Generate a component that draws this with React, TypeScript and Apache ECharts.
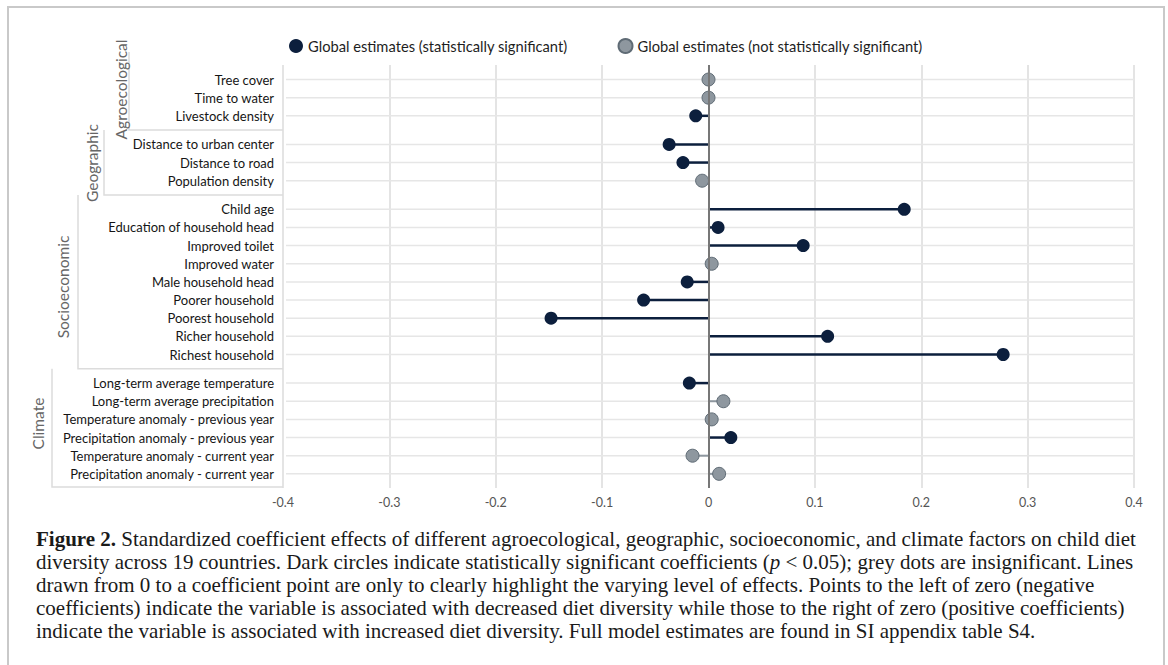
import React, { useEffect, useRef } from "react";
import * as echarts from "echarts";

// ---------- data ----------
const categories: string[] = [
  "Tree cover",
  "Time to water",
  "Livestock density",
  "Distance to urban center",
  "Distance to road",
  "Population density",
  "Child age",
  "Education of household head",
  "Improved toilet",
  "Improved water",
  "Male household head",
  "Poorer household",
  "Poorest household",
  "Richer household",
  "Richest household",
  "Long-term average temperature",
  "Long-term average precipitation",
  "Temperature anomaly - previous year",
  "Precipitation anomaly - previous year",
  "Temperature anomaly - current year",
  "Precipitation anomaly - current year",
];
const groups: string[] = ["Agroecological", "Geographic", "Socioeconomic", "Climate"];
const groupSizes: number[] = [3, 3, 9, 6];
const coefficients: number[] = [
  0.0, 0.0, -0.012,
  -0.037, -0.024, -0.006,
  0.184, 0.009, 0.089, 0.003, -0.02, -0.061, -0.148, 0.112, 0.277,
  -0.018, 0.014, 0.003, 0.021, -0.015, 0.01,
];
const significant: boolean[] = [
  false, false, true,
  true, true, false,
  true, true, true, false, true, true, true, true, true,
  true, false, false, true, false, false,
];
const legendNames: string[] = [
  "Global estimates (statistically significant)",
  "Global estimates (not statistically significant)",
];
const xMin = -0.4;
const xMax = 0.4;
const xStep = 0.1;
const captionLines: string[] = [
  "{b|Figure 2.} Standardized coefficient effects of different agroecological, geographic, socioeconomic, and climate factors on child diet",
  "diversity across 19 countries. Dark circles indicate statistically significant coefficients ({i|p} < 0.05); grey dots are insignificant. Lines",
  "drawn from 0 to a coefficient point are only to clearly highlight the varying level of effects. Points to the left of zero (negative",
  "coefficients) indicate the variable is associated with decreased diet diversity while those to the right of zero (positive coefficients)",
  "indicate the variable is associated with increased diet diversity. Full model estimates are found in SI appendix table S4.",
];

// ---------- layout / style ----------
const GROUP_GAP = 0.575;
const SANS = "Lato";
const SERIF = "Liberation Serif";
const CAP_SIZE = 21;
const NAVY = "#0c1f3d";
const GREY = "#8e979f";
const GREY_BORDER = "#5f6b75";

const groupOf: number[] = [];
groupSizes.forEach((n, g) => {
  for (let k = 0; k < n; k++) groupOf.push(g);
});
const positions: number[] = categories.map((_, i) => i + groupOf[i] * GROUP_GAP);
const yMin = -0.8;
const yMax = positions[positions.length - 1] + 0.78;

export default function App() {
  const ref = useRef<HTMLDivElement>(null);

  useEffect(() => {
    document.body.style.margin = "0";
    const chart = echarts.init(ref.current!, undefined, { renderer: "svg" });

    const labelFor = (v: number) => {
      let best = 0;
      let bd = Infinity;
      positions.forEach((p, i) => {
        const d = Math.abs(p - v);
        if (d < bd) {
          bd = d;
          best = i;
        }
      });
      return categories[best];
    };

    const option: any = {
      animation: false,
      legend: {
        data: legendNames,
        left: 284,
        top: 33,
        icon: "circle",
        itemWidth: 14,
        itemHeight: 14,
        itemGap: 50,
        textStyle: { color: "#1e1e1e", fontSize: 14.7, fontFamily: SANS },
      },
      grid: { left: 283, right: 34, top: 65, bottom: 177, containLabel: false },
      xAxis: {
        type: "value",
        min: xMin,
        max: xMax,
        interval: xStep,
        axisLine: { show: false },
        axisTick: { show: false },
        axisLabel: {
          color: "#555",
          fontSize: 12.5,
          fontFamily: SANS,
          margin: 8,
          formatter: (v: number) => String(Math.round(v * 10) / 10),
        },
        splitLine: { show: true, lineStyle: { color: "#e4e4e4", width: 2 } },
      },
      yAxis: {
        type: "value",
        inverse: true,
        min: yMin,
        max: yMax,
        axisLine: { show: false },
        axisTick: { show: false },
        splitLine: { show: false },
        axisLabel: {
          customValues: positions,
          formatter: (v: number) => labelFor(v),
          color: "#151515",
          fontSize: 13,
          fontFamily: SANS,
          margin: 9,
        },
      },
      series: [
        {
          type: "custom",
          name: "rows",
          silent: true,
          z: 1,
          encode: { x: [0, 2], y: 1 },
          data: positions.map((p) => [xMin, p, xMax]),
          renderItem: (params: any, api: any) => {
            const a = api.coord([api.value(0), api.value(1)]);
            const b = api.coord([api.value(2), api.value(1)]);
            return {
              type: "line",
              shape: { x1: a[0] + 3, y1: a[1], x2: b[0], y2: b[1] },
              style: { stroke: "#e6e6e6", lineWidth: 1.5 },
            };
          },
        },
        {
          type: "custom",
          name: "stems",
          silent: true,
          z: 2,
          encode: { x: [0, 2], y: 1 },
          data: coefficients.map((c, i) => [0, positions[i], c, significant[i] ? 1 : 0]),
          renderItem: (params: any, api: any) => {
            const a = api.coord([api.value(0), api.value(1)]);
            const b = api.coord([api.value(2), api.value(1)]);
            const sig = api.value(3) === 1;
            return {
              type: "line",
              shape: { x1: a[0], y1: a[1], x2: b[0], y2: b[1] },
              style: { stroke: sig ? NAVY : GREY, lineWidth: sig ? 2.5 : 2 },
            };
          },
          markLine: {
            silent: true,
            symbol: "none",
            label: { show: false },
            lineStyle: { color: "#777", width: 2, type: "solid" },
            data: [{ xAxis: 0 }],
          },
        },
        {
          type: "scatter",
          name: legendNames[0],
          z: 4,
          symbol: "circle",
          symbolSize: 13,
          itemStyle: { color: NAVY, opacity: 1 },
          data: coefficients
            .map((c, i) => (significant[i] ? [c, positions[i]] : null))
            .filter((d) => d !== null),
        },
        {
          type: "scatter",
          name: legendNames[1],
          z: 4,
          symbol: "circle",
          symbolSize: 13,
          itemStyle: { color: GREY, borderColor: GREY_BORDER, borderWidth: 1, opacity: 1 },
          data: coefficients
            .map((c, i) => (!significant[i] ? [c, positions[i]] : null))
            .filter((d) => d !== null),
        },
      ],
    };
    chart.setOption(option);

    // ---- graphic: frame, group brackets, group labels, caption ----
    const py = (v: number) => chart.convertToPixel({ yAxisIndex: 0 }, v) as number;
    const xLeft = chart.convertToPixel({ xAxisIndex: 0 }, xMin) as number;
    const gridBottom = py(yMax);

    const starts: number[] = [];
    let acc = 0;
    groupSizes.forEach((n) => {
      starts.push(acc);
      acc += n;
    });
    const boundaries: number[] = [];
    for (let g = 0; g < groups.length - 1; g++) {
      const last = starts[g] + groupSizes[g] - 1;
      boundaries.push((py(positions[last]) + py(positions[last + 1])) / 2);
    }
    const boxTop = [52, boundaries[0], boundaries[1], boundaries[2]];
    const boxBottom = [boundaries[0], boundaries[1], boundaries[2], gridBottom - 1];
    const boxX = [129, 104, 78, 52];
    const labelX = [120.5, 92, 63, 38];
    const labelY = [89.5, 163, 287, 423.5];

    const graphics: any[] = [
      {
        type: "rect",
        shape: { x: 8, y: 7, width: 1156, height: 700 },
        style: { fill: "none", stroke: "#c9c9c9", lineWidth: 2 },
        silent: true,
      },
    ];
    groups.forEach((g, i) => {
      graphics.push({
        type: "polyline",
        shape: {
          points: [
            [boxX[i], boxTop[i]],
            [boxX[i], boxBottom[i]],
            [xLeft, boxBottom[i]],
          ],
        },
        style: { fill: "none", stroke: "#dcdcdc", lineWidth: 1.5 },
        silent: true,
      });
      graphics.push({
        type: "text",
        x: labelX[i],
        y: labelY[i],
        rotation: Math.PI / 2,
        style: {
          text: g,
          fill: "#666",
          font: `15.5px ${SANS}`,
          align: "center",
          verticalAlign: "middle",
        },
        silent: true,
      });
    });
    captionLines.forEach((line, i) => {
      graphics.push({
        type: "text",
        x: 36,
        y: 539 + 23 * i,
        style: {
          text: line,
          fill: "#1a1a1a",
          fontFamily: SERIF,
          fontSize: CAP_SIZE,
          verticalAlign: "middle",
          rich: {
            b: { fontFamily: SERIF, fontSize: CAP_SIZE, fontWeight: "bold", fill: "#1a1a1a" },
            i: { fontFamily: SERIF, fontSize: CAP_SIZE, fontStyle: "italic", fill: "#1a1a1a" },
          },
        },
        silent: true,
      });
    });
    chart.setOption({ graphic: graphics });

    return () => chart.dispose();
  }, []);

  return <div ref={ref} style={{ width: 1168, height: 665 }} />;
}
